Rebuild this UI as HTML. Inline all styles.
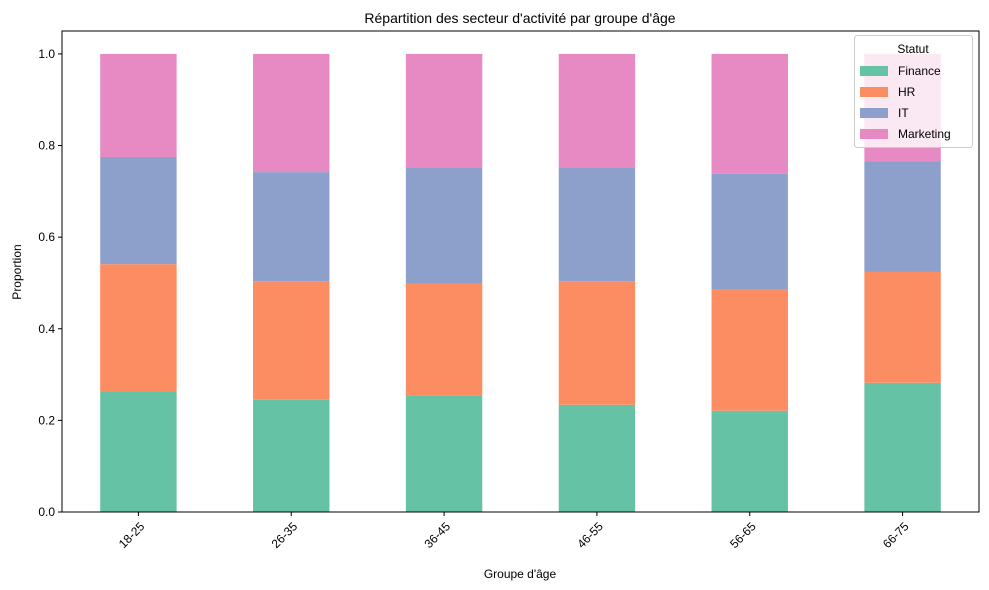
<!DOCTYPE html>
<html><head><meta charset="utf-8"><style>
body{margin:0;background:#fff;}
svg{display:block;font-family:"Liberation Sans","DejaVu Sans",sans-serif;}
</style></head><body>
<svg id="chart" width="989" height="590" viewBox="0 0 989 590">
<text x="520" y="23" text-anchor="middle" font-size="14">Répartition des secteur d'activité par groupe d'âge</text>
<g id="plot"></g>
<text x="520" y="578" text-anchor="middle" font-size="12">Groupe d'âge</text>
<text transform="translate(21,272) rotate(-90)" text-anchor="middle" font-size="12">Proportion</text>
</svg>
<script>
const categories=["18-25","26-35","36-45","46-55","56-65","66-75"];
const finance=[0.264,0.245,0.255,0.234,0.221,0.282];
const hr=[0.277,0.259,0.243,0.270,0.264,0.242];
const it=[0.234,0.238,0.253,0.247,0.253,0.242];
const marketing=[0.225,0.258,0.249,0.249,0.262,0.234];
const seriesNames=["Finance","HR","IT","Marketing"];
const yTicks=[0,0.2,0.4,0.6,0.8,1.0];
const colors=["#66c2a5","#fc8d62","#8da0cb","#e78ac3"];
const NS="http://www.w3.org/2000/svg";
const L=62,R=979,T=31,B=512;
const y=v=>B-(v/1.05)*(B-T);
const step=(R-L)/categories.length;
const x=i=>L+step*(i+0.5);
const bw=step*0.5;
const g=document.getElementById('plot');
function mk(t,a,p){const e=document.createElementNS(NS,t);for(const k in a)e.setAttribute(k,a[k]);(p||g).appendChild(e);return e;}
const series=[finance,hr,it,marketing];
categories.forEach((c,i)=>{
  let base=0;
  series.forEach((s,j)=>{
    const r=mk('rect',{x:x(i)-bw/2,y:y(base+s[i]),width:bw,height:y(base)-y(base+s[i]),fill:colors[j]});
    
    
    base+=s[i];
  });
  mk('line',{x1:x(i),x2:x(i),y1:B,y2:B+4,stroke:'#000'});
  const t=mk('text',{transform:`translate(${x(i)-4},${B+26}) rotate(-45)`,'text-anchor':'middle','font-size':12});
  t.textContent=c;
  
  
});
yTicks.forEach(v=>{
  mk('line',{x1:L-4,x2:L,y1:y(v),y2:y(v),stroke:'#000'});
  const t=mk('text',{x:L-7,y:y(v)+4,'text-anchor':'end','font-size':12});
  t.textContent=v.toFixed(1);
  
  
});
const frame=mk('rect',{x:L,y:T,width:R-L,height:B-T,fill:'none',stroke:'#000','stroke-width':1});


const lg=mk('g',{});


mk('rect',{x:854.5,y:35.5,width:118,height:112,rx:3,fill:'#fff','fill-opacity':0.8,stroke:'#ccc'},lg);
const lt=mk('text',{x:913,y:53,'text-anchor':'middle','font-size':12},lg);
lt.textContent='Statut';
seriesNames.forEach((n,j)=>{
  const yy=71+j*21;
  mk('rect',{x:860,y:yy-5,width:28,height:10,fill:colors[j]},lg);
  const t=mk('text',{x:898,y:yy+4,'font-size':12},lg);
  t.textContent=n;
  
  
});
</script>
</body></html>
